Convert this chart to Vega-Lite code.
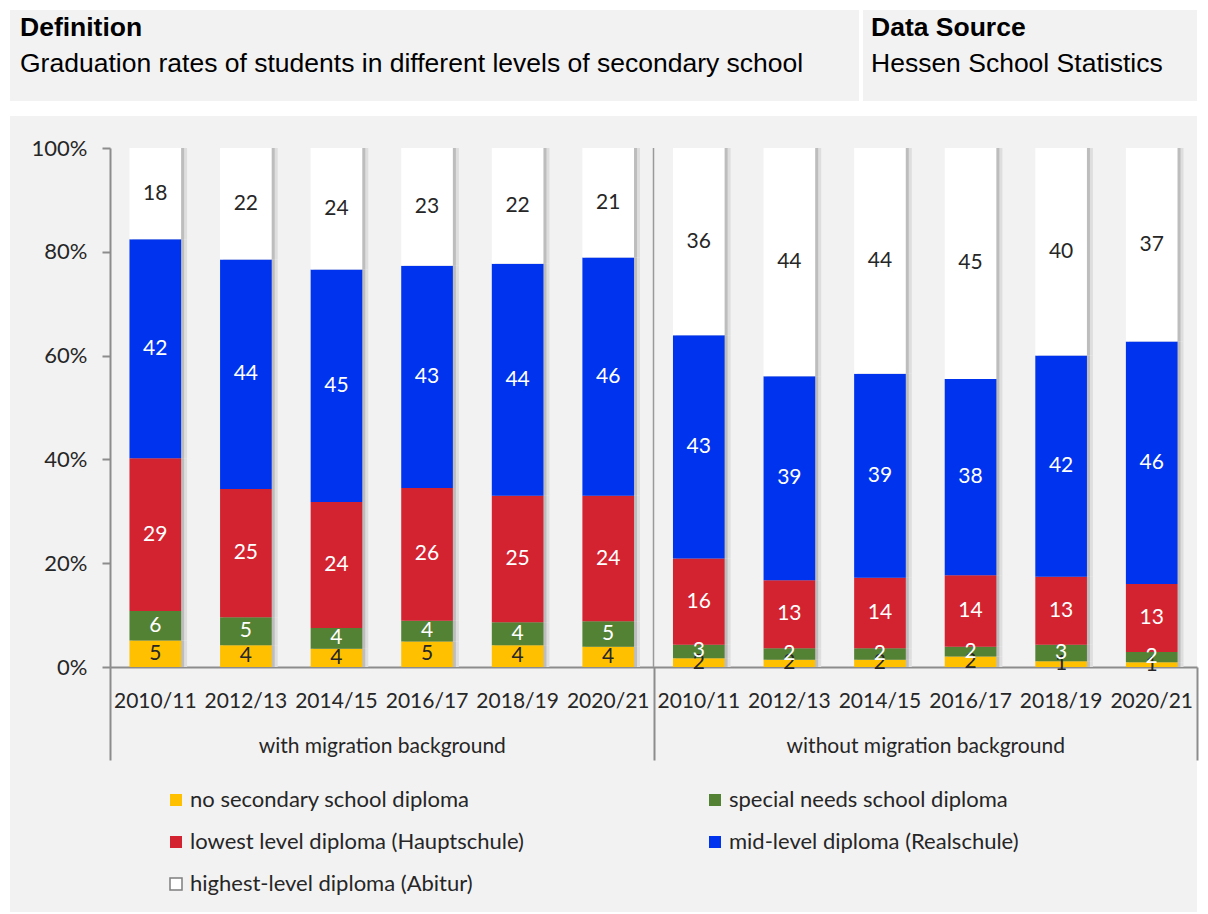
{
  "$schema": "https://vega.github.io/schema/vega-lite/v6.json",
  "background": "#ffffff",
  "padding": {"left": 10, "top": 10, "right": 11, "bottom": 2},
  "config": {"view": {"stroke": null}, "font": "Lato"},
  "spacing": 15,
  "vconcat": [
    {
      "spacing": 4,
      "hconcat": [
        {
          "width": 849,
          "height": 91,
          "view": {"fill": "#f2f2f2", "stroke": null},
          "data": {"values": []},
          "mark": {"type": "text"},
          "encoding": {},
          "title": {
            "text": "Definition",
            "subtitle": "Graduation rates of students in different levels of secondary school",
            "anchor": "start",
            "frame": "group",
            "orient": "top",
            "offset": -67,
            "dx": 10,
            "font": "Liberation Sans",
            "fontSize": 26.5,
            "fontWeight": "bold",
            "color": "#000000",
            "subtitleFont": "Liberation Sans",
            "subtitleFontSize": 26.5,
            "subtitleColor": "#000000",
            "subtitlePadding": 9
          }
        },
        {
          "width": 334,
          "height": 91,
          "view": {"fill": "#f2f2f2", "stroke": null},
          "data": {"values": []},
          "mark": {"type": "text"},
          "encoding": {},
          "title": {
            "text": "Data Source",
            "subtitle": "Hessen School Statistics",
            "anchor": "start",
            "frame": "group",
            "orient": "top",
            "offset": -67,
            "dx": 8,
            "font": "Liberation Sans",
            "fontSize": 26.5,
            "fontWeight": "bold",
            "color": "#000000",
            "subtitleFont": "Liberation Sans",
            "subtitleFontSize": 26.5,
            "subtitleColor": "#000000",
            "subtitlePadding": 9
          }
        }
      ]
    },
    {
      "width": 1187,
      "height": 796,
      "view": {"fill": "#f2f2f2", "stroke": null},
      "data": {
        "values": [
          {"grp": "with migration background", "key": "A 2010/11", "cat": "no secondary school diploma", "level": 1, "v": 5.1, "lbl": "5"},
          {"grp": "with migration background", "key": "A 2010/11", "cat": "special needs school diploma", "level": 2, "v": 5.7, "lbl": "6"},
          {"grp": "with migration background", "key": "A 2010/11", "cat": "lowest level diploma (Hauptschule)", "level": 3, "v": 29.4, "lbl": "29"},
          {"grp": "with migration background", "key": "A 2010/11", "cat": "mid-level diploma (Realschule)", "level": 4, "v": 42.2, "lbl": "42"},
          {"grp": "with migration background", "key": "A 2010/11", "cat": "highest-level diploma (Abitur)", "level": 5, "v": 17.6, "lbl": "18"},
          {"grp": "with migration background", "key": "A 2012/13", "cat": "no secondary school diploma", "level": 1, "v": 4.2, "lbl": "4"},
          {"grp": "with migration background", "key": "A 2012/13", "cat": "special needs school diploma", "level": 2, "v": 5.4, "lbl": "5"},
          {"grp": "with migration background", "key": "A 2012/13", "cat": "lowest level diploma (Hauptschule)", "level": 3, "v": 24.7, "lbl": "25"},
          {"grp": "with migration background", "key": "A 2012/13", "cat": "mid-level diploma (Realschule)", "level": 4, "v": 44.2, "lbl": "44"},
          {"grp": "with migration background", "key": "A 2012/13", "cat": "highest-level diploma (Abitur)", "level": 5, "v": 21.5, "lbl": "22"},
          {"grp": "with migration background", "key": "A 2014/15", "cat": "no secondary school diploma", "level": 1, "v": 3.5, "lbl": "4"},
          {"grp": "with migration background", "key": "A 2014/15", "cat": "special needs school diploma", "level": 2, "v": 4.0, "lbl": "4"},
          {"grp": "with migration background", "key": "A 2014/15", "cat": "lowest level diploma (Hauptschule)", "level": 3, "v": 24.3, "lbl": "24"},
          {"grp": "with migration background", "key": "A 2014/15", "cat": "mid-level diploma (Realschule)", "level": 4, "v": 44.8, "lbl": "45"},
          {"grp": "with migration background", "key": "A 2014/15", "cat": "highest-level diploma (Abitur)", "level": 5, "v": 23.4, "lbl": "24"},
          {"grp": "with migration background", "key": "A 2016/17", "cat": "no secondary school diploma", "level": 1, "v": 4.9, "lbl": "5"},
          {"grp": "with migration background", "key": "A 2016/17", "cat": "special needs school diploma", "level": 2, "v": 4.0, "lbl": "4"},
          {"grp": "with migration background", "key": "A 2016/17", "cat": "lowest level diploma (Hauptschule)", "level": 3, "v": 25.6, "lbl": "26"},
          {"grp": "with migration background", "key": "A 2016/17", "cat": "mid-level diploma (Realschule)", "level": 4, "v": 42.8, "lbl": "43"},
          {"grp": "with migration background", "key": "A 2016/17", "cat": "highest-level diploma (Abitur)", "level": 5, "v": 22.7, "lbl": "23"},
          {"grp": "with migration background", "key": "A 2018/19", "cat": "no secondary school diploma", "level": 1, "v": 4.2, "lbl": "4"},
          {"grp": "with migration background", "key": "A 2018/19", "cat": "special needs school diploma", "level": 2, "v": 4.4, "lbl": "4"},
          {"grp": "with migration background", "key": "A 2018/19", "cat": "lowest level diploma (Hauptschule)", "level": 3, "v": 24.4, "lbl": "25"},
          {"grp": "with migration background", "key": "A 2018/19", "cat": "mid-level diploma (Realschule)", "level": 4, "v": 44.7, "lbl": "44"},
          {"grp": "with migration background", "key": "A 2018/19", "cat": "highest-level diploma (Abitur)", "level": 5, "v": 22.3, "lbl": "22"},
          {"grp": "with migration background", "key": "A 2020/21", "cat": "no secondary school diploma", "level": 1, "v": 3.9, "lbl": "4"},
          {"grp": "with migration background", "key": "A 2020/21", "cat": "special needs school diploma", "level": 2, "v": 4.9, "lbl": "5"},
          {"grp": "with migration background", "key": "A 2020/21", "cat": "lowest level diploma (Hauptschule)", "level": 3, "v": 24.2, "lbl": "24"},
          {"grp": "with migration background", "key": "A 2020/21", "cat": "mid-level diploma (Realschule)", "level": 4, "v": 45.9, "lbl": "46"},
          {"grp": "with migration background", "key": "A 2020/21", "cat": "highest-level diploma (Abitur)", "level": 5, "v": 21.1, "lbl": "21"},
          {"grp": "without migration background", "key": "B 2010/11", "cat": "no secondary school diploma", "level": 1, "v": 1.7, "lbl": "2"},
          {"grp": "without migration background", "key": "B 2010/11", "cat": "special needs school diploma", "level": 2, "v": 2.6, "lbl": "3"},
          {"grp": "without migration background", "key": "B 2010/11", "cat": "lowest level diploma (Hauptschule)", "level": 3, "v": 16.6, "lbl": "16"},
          {"grp": "without migration background", "key": "B 2010/11", "cat": "mid-level diploma (Realschule)", "level": 4, "v": 43.0, "lbl": "43"},
          {"grp": "without migration background", "key": "B 2010/11", "cat": "highest-level diploma (Abitur)", "level": 5, "v": 36.1, "lbl": "36"},
          {"grp": "without migration background", "key": "B 2012/13", "cat": "no secondary school diploma", "level": 1, "v": 1.4, "lbl": "2"},
          {"grp": "without migration background", "key": "B 2012/13", "cat": "special needs school diploma", "level": 2, "v": 2.2, "lbl": "2"},
          {"grp": "without migration background", "key": "B 2012/13", "cat": "lowest level diploma (Hauptschule)", "level": 3, "v": 13.1, "lbl": "13"},
          {"grp": "without migration background", "key": "B 2012/13", "cat": "mid-level diploma (Realschule)", "level": 4, "v": 39.3, "lbl": "39"},
          {"grp": "without migration background", "key": "B 2012/13", "cat": "highest-level diploma (Abitur)", "level": 5, "v": 44.0, "lbl": "44"},
          {"grp": "without migration background", "key": "B 2014/15", "cat": "no secondary school diploma", "level": 1, "v": 1.4, "lbl": "2"},
          {"grp": "without migration background", "key": "B 2014/15", "cat": "special needs school diploma", "level": 2, "v": 2.2, "lbl": "2"},
          {"grp": "without migration background", "key": "B 2014/15", "cat": "lowest level diploma (Hauptschule)", "level": 3, "v": 13.6, "lbl": "14"},
          {"grp": "without migration background", "key": "B 2014/15", "cat": "mid-level diploma (Realschule)", "level": 4, "v": 39.3, "lbl": "39"},
          {"grp": "without migration background", "key": "B 2014/15", "cat": "highest-level diploma (Abitur)", "level": 5, "v": 43.5, "lbl": "44"},
          {"grp": "without migration background", "key": "B 2016/17", "cat": "no secondary school diploma", "level": 1, "v": 2.0, "lbl": "2"},
          {"grp": "without migration background", "key": "B 2016/17", "cat": "special needs school diploma", "level": 2, "v": 1.9, "lbl": "2"},
          {"grp": "without migration background", "key": "B 2016/17", "cat": "lowest level diploma (Hauptschule)", "level": 3, "v": 13.8, "lbl": "14"},
          {"grp": "without migration background", "key": "B 2016/17", "cat": "mid-level diploma (Realschule)", "level": 4, "v": 37.8, "lbl": "38"},
          {"grp": "without migration background", "key": "B 2016/17", "cat": "highest-level diploma (Abitur)", "level": 5, "v": 44.5, "lbl": "45"},
          {"grp": "without migration background", "key": "B 2018/19", "cat": "no secondary school diploma", "level": 1, "v": 1.1, "lbl": "1"},
          {"grp": "without migration background", "key": "B 2018/19", "cat": "special needs school diploma", "level": 2, "v": 3.2, "lbl": "3"},
          {"grp": "without migration background", "key": "B 2018/19", "cat": "lowest level diploma (Hauptschule)", "level": 3, "v": 13.1, "lbl": "13"},
          {"grp": "without migration background", "key": "B 2018/19", "cat": "mid-level diploma (Realschule)", "level": 4, "v": 42.6, "lbl": "42"},
          {"grp": "without migration background", "key": "B 2018/19", "cat": "highest-level diploma (Abitur)", "level": 5, "v": 40.0, "lbl": "40"},
          {"grp": "without migration background", "key": "B 2020/21", "cat": "no secondary school diploma", "level": 1, "v": 0.9, "lbl": "1"},
          {"grp": "without migration background", "key": "B 2020/21", "cat": "special needs school diploma", "level": 2, "v": 2.0, "lbl": "2"},
          {"grp": "without migration background", "key": "B 2020/21", "cat": "lowest level diploma (Hauptschule)", "level": 3, "v": 13.1, "lbl": "13"},
          {"grp": "without migration background", "key": "B 2020/21", "cat": "mid-level diploma (Realschule)", "level": 4, "v": 46.7, "lbl": "46"},
          {"grp": "without migration background", "key": "B 2020/21", "cat": "highest-level diploma (Abitur)", "level": 5, "v": 37.3, "lbl": "37"}
        ]
      },
      "layer": [
        {
          "encoding": {
            "x": {
              "field": "key",
              "type": "nominal",
              "scale": {"range": [100, 1187], "paddingInner": 0.43, "paddingOuter": 0.215},
              "axis": {
                "orient": "bottom",
                "offset": -245,
                "title": null,
                "labelExpr": "slice(datum.value, 2)",
                "ticks": false,
                "grid": false,
                "domainColor": "#8c8c8c",
                "domainWidth": 2,
                "labelFont": "Lato",
                "labelFontSize": 21,
                "labelColor": "#262626",
                "labelPadding": 23,
                "labelAngle": 0,
                "labelOverlap": false,
                "labelBound": false
              }
            },
            "y": {
              "field": "v",
              "type": "quantitative",
              "stack": "zero",
              "scale": {"domain": [0, 100], "range": [551, 32], "nice": false},
              "axis": {
                "orient": "left",
                "offset": -100,
                "values": [0, 20, 40, 60, 80, 100],
                "labelExpr": "datum.value + '%'",
                "title": null,
                "grid": false,
                "domainColor": "#8c8c8c",
                "domainWidth": 2,
                "tickColor": "#8c8c8c",
                "tickWidth": 2,
                "tickSize": 8,
                "labelFont": "Lato",
                "labelFontSize": 22,
                "labelColor": "#262626",
                "labelPadding": 15
              }
            },
            "order": {"field": "level", "type": "quantitative"},
            "detail": {"field": "cat", "type": "nominal"}
          },
          "layer": [
            {
              "mark": {"type": "bar", "xOffset": 6, "color": "#dedede"}
            },
            {
              "mark": {"type": "bar", "xOffset": 3, "color": "#bdbdbd"}
            },
            {
              "mark": {"type": "bar"},
              "encoding": {
                "color": {
                  "field": "cat",
                  "type": "nominal",
                  "sort": ["no secondary school diploma", "special needs school diploma", "lowest level diploma (Hauptschule)", "mid-level diploma (Realschule)", "highest-level diploma (Abitur)"],
                  "scale": {
                    "domain": ["no secondary school diploma", "special needs school diploma", "lowest level diploma (Hauptschule)", "mid-level diploma (Realschule)", "highest-level diploma (Abitur)"],
                    "range": ["#ffc000", "#548235", "#d42330", "#0033ee", "#ffffff"]
                  },
                  "legend": {
                    "orient": "none",
                    "legendX": 155,
                    "legendY": 779,
                    "direction": "horizontal",
                    "columns": 2,
                    "columnPadding": 180,
                    "rowPadding": 20,
                    "title": null,
                    "symbolType": "square",
                    "symbolSize": 144,
                    "symbolStrokeWidth": 0,
                    "labelFont": "Lato",
                    "labelFontSize": 22,
                    "labelColor": "#262626",
                    "labelOffset": 3,
                    "labelLimit": 600,
                    "encode": {
                      "symbols": {
                        "update": {
                          "stroke": [
                            {"test": "datum.value === 'highest-level diploma (Abitur)'", "value": "#7f7f7f"},
                            {"value": "transparent"}
                          ],
                          "strokeWidth": {"value": 1.5}
                        }
                      }
                    }
                  }
                }
              }
            },
            {
              "mark": {"type": "text", "font": "Lato", "fontSize": 21, "baseline": "middle", "align": "center"},
              "encoding": {
                "y": {
                  "field": "v",
                  "type": "quantitative",
                  "stack": "zero",
                  "bandPosition": 0.5,
                  "scale": {"domain": [0, 100], "range": [551, 32], "nice": false},
                  "axis": {
                    "orient": "left",
                    "offset": -100,
                    "values": [0, 20, 40, 60, 80, 100],
                    "labelExpr": "datum.value + '%'",
                    "title": null,
                    "grid": false,
                    "domainColor": "#8c8c8c",
                    "domainWidth": 2,
                    "tickColor": "#8c8c8c",
                    "tickWidth": 2,
                    "tickSize": 8,
                    "labelFont": "Lato",
                    "labelFontSize": 22,
                    "labelColor": "#262626",
                    "labelPadding": 15
                  }
                },
                "text": {"field": "lbl", "type": "nominal"},
                "color": {
                  "condition": {"test": "datum.level === 1 || datum.level === 5", "value": "#262626"},
                  "value": "#ffffff"
                }
              }
            }
          ]
        },
        {
          "data": {"values": [{"grp": "without migration background"}]},
          "mark": {"type": "rule", "color": "#9a9a9a", "strokeWidth": 1.5},
          "encoding": {
            "x": {
              "field": "grp",
              "type": "nominal",
              "bandPosition": 0,
              "scale": {"domain": ["with migration background", "without migration background"], "range": [100, 1187], "paddingInner": 0, "paddingOuter": 0},
              "axis": {
                "orient": "bottom",
                "offset": -245,
                "title": null,
                "domain": false,
                "grid": false,
                "ticks": true,
                "tickBand": "extent",
                "tickSize": 93,
                "tickColor": "#8c8c8c",
                "tickWidth": 2,
                "labelFont": "Lato",
                "labelFontSize": 21,
                "labelColor": "#262626",
                "labelPadding": -25,
                "labelLimit": 600,
                "labelAngle": 0
              }
            },
            "y": {"datum": 0, "type": "quantitative"},
            "y2": {"datum": 100}
          }
        }
      ],
      "resolve": {"scale": {"x": "independent"}, "axis": {"x": "independent"}}
    }
  ]
}
